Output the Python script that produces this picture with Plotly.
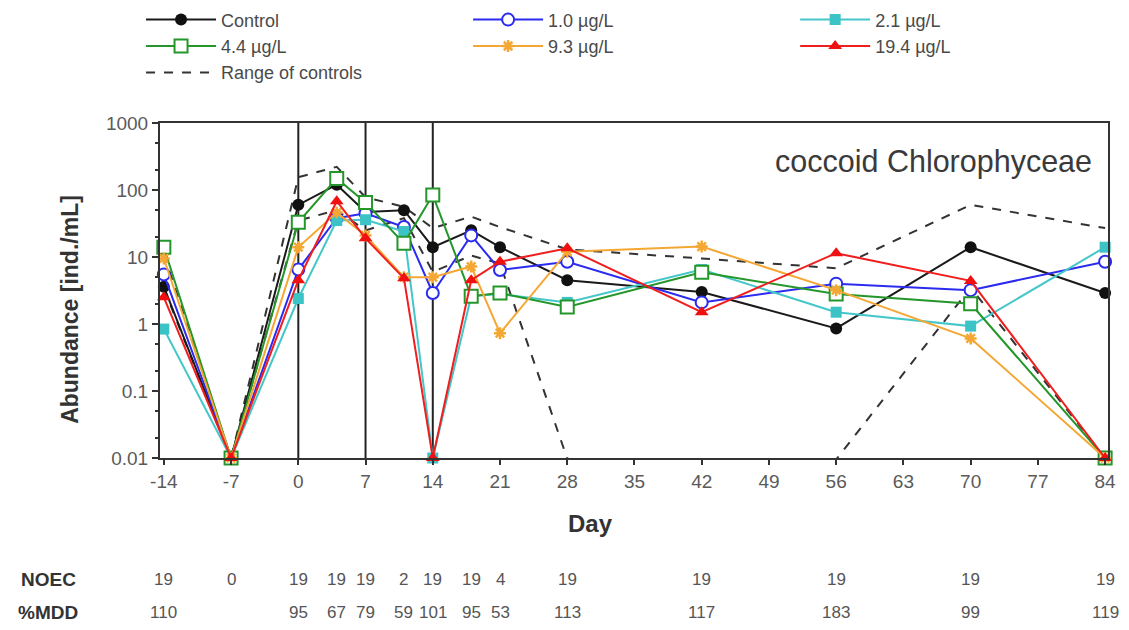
import plotly.graph_objects as go

# Sampling days (x positions)
days = [-14, -7, 0, 4, 7, 11, 14, 18, 21, 28, 42, 56, 70, 84]

# Abundance [ind./mL]; 0.01 is used as the plotting value for "none found"
control = [3.6, 0.01, 60, 120, 47, 50, 14, 25, 14, 4.5, 3.0, 0.86, 14, 2.9]
c_1_0 = [5.5, 0.01, 6.5, 38, 45, 28, 2.9, 21, 6.4, 8.5, 2.1, 4.0, 3.2, 8.5]
c_2_1 = [0.84, 0.01, 2.4, 35, 36, 24, 0.01, 2.6, 2.8, 2.1, 6.5, 1.5, 0.93, 14]
c_4_4 = [14, 0.01, 33, 149, 65, 16, 84, 2.6, 2.9, 1.8, 5.9, 2.8, 2.0, 0.01]
c_9_3 = [9.5, 0.01, 14, 46, 21, 5.0, 5.0, 7.2, 0.73, 12, 14.3, 3.2, 0.61, 0.01]
c_19_4 = [2.5, 0.01, 4.5, 68, 19, 4.8, 0.01, 4.5, 8.5, 13.5, 1.5, 11.4, 4.4, 0.01]

# Range of control replicates (values below 0.01 fall under the axis floor)
ctrl_max = [11, 0.01, 155, 222, 78, 56, 27, 40, 28, 13, 9.5, 6.8, 60, 27]
ctrl_min = [3.4, 0.01, 35, 50, 25, 38, 6.0, 10.5, 8.0, 0.0098, 0.004, 0.0095, 3.5, 0.01]

# Statistics rows under the chart
noec_days = [-14, -7, 0, 4, 7, 11, 14, 18, 21, 28, 42, 56, 70, 84]
noec_vals = ["19", "0", "19", "19", "19", "2", "19", "19", "4", "19", "19", "19", "19", "19"]
mdd_days = [-14, 0, 4, 7, 11, 14, 18, 21, 28, 42, 56, 70, 84]
mdd_vals = ["110", "95", "67", "79", "59", "101", "95", "53", "113", "117", "183", "99", "119"]

x_ticks = [-14, -7, 0, 7, 14, 21, 28, 35, 42, 49, 56, 63, 70, 77, 84]
x_ticktext = ["-14", "-7", "0", "7", "14", "21", "28", "35", "42", "49", "56", "63", "70", "77", "84"]
y_ticks = [0.01, 0.1, 1, 10, 100, 1000]
y_ticktext = ["0.01", "0.1", "1", "10", "100", "1000"]
event_days = [0, 7, 14]

AX = "#333333"
TXT = "#4a4a4a"
FONT = "Liberation Sans, Arial, sans-serif"

fig = go.Figure()

series = [
    ("Control", control, "#1a1a1a",
     dict(symbol="circle", color="#111111", size=12), "legend", 1),
    ("1.0 µg/L", c_1_0, "#2b2bf0",
     dict(symbol="circle", color="white", size=12, line=dict(width=2, color="#2b2bf0")), "legend2", 1),
    ("2.1 µg/L", c_2_1, "#45c7c9",
     dict(symbol="square", color="#3cc3c6", size=11), "legend3", 1),
    ("4.4 µg/L", c_4_4, "#25962a",
     dict(symbol="square", color="white", size=13, line=dict(width=2, color="#25962a")), "legend", 2),
    ("9.3 µg/L", c_9_3, "#f5a733",
     dict(symbol="asterisk-open", color="#f5a733", size=10, line=dict(width=2.5, color="#f5a733")), "legend2", 2),
    ("19.4 µg/L", c_19_4, "#f01e1e",
     dict(symbol="triangle-up", color="#f01010", size=12), "legend3", 2),
]

# Control range envelope drawn first
fig.add_trace(go.Scatter(x=days, y=ctrl_max, mode="lines", name="Range of controls",
                         line=dict(color="#333333", width=2, dash="dash"),
                         legend="legend", legendrank=3))
fig.add_trace(go.Scatter(x=days, y=ctrl_min, mode="lines", name="Range of controls",
                         line=dict(color="#333333", width=2, dash="dash"), showlegend=False))

for name, vals, lc, mk, lg, rank in series:
    fig.add_trace(go.Scatter(x=days, y=vals, mode="lines+markers", name=name,
                             line=dict(color=lc, width=2), marker=mk, legend=lg,
                             legendrank=rank, cliponaxis=False))

# Vertical reference lines at application days
for d in event_days:
    fig.add_shape(type="line", x0=d, x1=d, y0=0, y1=1, xref="x", yref="paper",
                  line=dict(color="#222222", width=2), layer="below")

ann = []
ann.append(dict(text="coccoid Chlorophyceae", x=0.985, y=0.885, xref="paper", yref="paper",
                xanchor="right", yanchor="middle", showarrow=False,
                font=dict(size=30.5, color="#3a3a3a", family=FONT)))
ann.append(dict(text="<b>Abundance [ind./mL]</b>", x=-0.095, y=0.445, xref="paper", yref="paper",
                textangle=-90, showarrow=False, xanchor="center", yanchor="middle",
                font=dict(size=23, color="#333333", family=FONT)))
ann.append(dict(text="<b>Day</b>", x=30.4, y=-0.195, xref="x", yref="paper",
                showarrow=False, xanchor="center", yanchor="middle",
                font=dict(size=24, color="#333333", family=FONT)))
ann.append(dict(text="<b>NOEC</b>", x=-0.118, y=-0.364, xref="paper", yref="paper",
                showarrow=False, xanchor="center", yanchor="middle",
                font=dict(size=19, color="#333333", family=FONT)))
ann.append(dict(text="<b>%MDD</b>", x=-0.118, y=-0.46, xref="paper", yref="paper",
                showarrow=False, xanchor="center", yanchor="middle",
                font=dict(size=19, color="#333333", family=FONT)))
for d, v in zip(noec_days, noec_vals):
    ann.append(dict(text=v, x=d, y=-0.364, xref="x", yref="paper", showarrow=False,
                    xanchor="center", yanchor="middle",
                    font=dict(size=17, color="#555555", family=FONT)))
for d, v in zip(mdd_days, mdd_vals):
    ann.append(dict(text=v, x=d, y=-0.46, xref="x", yref="paper", showarrow=False,
                    xanchor="center", yanchor="middle",
                    font=dict(size=17, color="#555555", family=FONT)))

legend_common = dict(bgcolor="rgba(0,0,0,0)", borderwidth=0, orientation="v",
                     yanchor="top", xanchor="left", tracegroupgap=0,
                     font=dict(size=18, color=TXT, family=FONT), itemwidth=70)

fig.update_layout(
    width=1129, height=630,
    margin=dict(l=160, r=21, t=123, b=172, autoexpand=False),
    paper_bgcolor="white", plot_bgcolor="white",
    font=dict(family=FONT, color=TXT),
    annotations=ann,
    legend=dict(x=-0.02, y=1.363, **legend_common),
    legend2=dict(x=0.325, y=1.363, **legend_common),
    legend3=dict(x=0.67, y=1.363, **legend_common),
    xaxis=dict(range=[-14.4, 84.3], tickvals=x_ticks, ticktext=x_ticktext,
               ticks="outside", ticklen=5,
               tickwidth=2, tickcolor=AX, showline=True, linecolor=AX, linewidth=2,
               mirror=True, showgrid=False, zeroline=False,
               tickfont=dict(size=19, color="#5a5a5a", family=FONT)),
    yaxis=dict(type="log", range=[-2, 3], tickvals=y_ticks, ticktext=y_ticktext,
               ticks="outside", ticklen=6, tickwidth=2, tickcolor=AX,
               showline=True, linecolor=AX, linewidth=2, mirror=True,
               showgrid=False, zeroline=False,
               minor=dict(ticks="outside", ticklen=3, tickcolor=AX, showgrid=False),
               tickfont=dict(size=19, color="#5a5a5a", family=FONT)),
)

fig.write_html("out.html")
